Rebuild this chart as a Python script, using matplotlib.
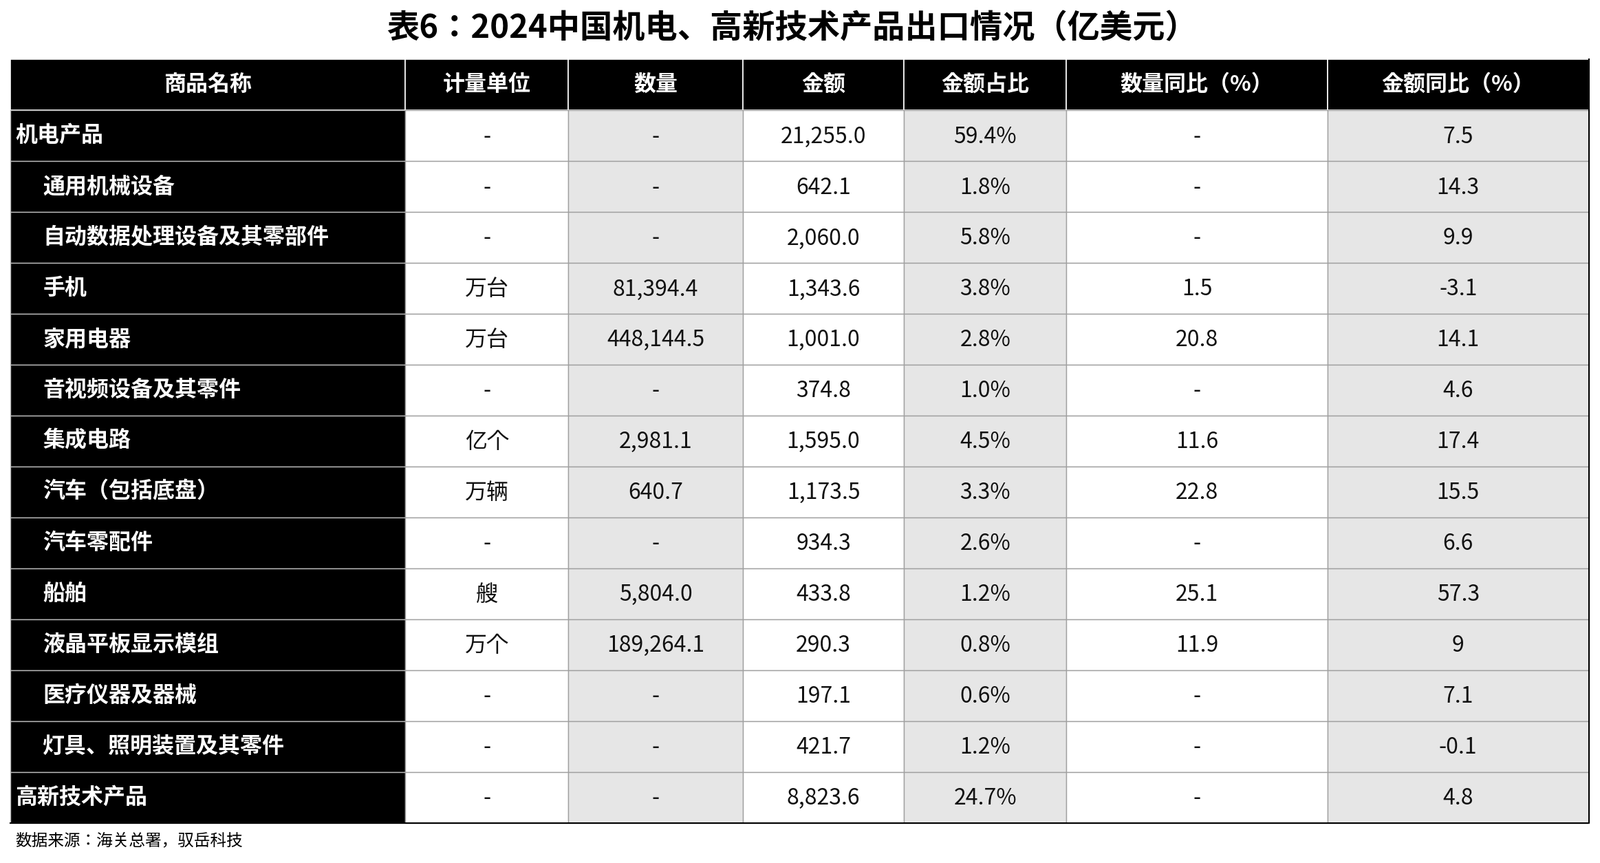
import matplotlib.pyplot as plt
from matplotlib import font_manager
from matplotlib.patches import Rectangle

# pick whatever CJK family name is registered
cjk = [f.name for f in font_manager.fontManager.ttflist if "CJK" in f.name]
plt.rcParams["font.family"] = ["Noto Sans CJK SC", "Noto Sans CJK JP"] + sorted(set(cjk)) + ["DejaVu Sans"]

title = "表6：2024中国机电、高新技术产品出口情况（亿美元）"
source = "数据来源：海关总署，驭岳科技"
headers = ["商品名称", "计量单位", "数量", "金额", "金额占比", "数量同比（%）", "金额同比（%）"]
names = ["机电产品", "通用机械设备", "自动数据处理设备及其零部件", "手机", "家用电器",
         "音视频设备及其零件", "集成电路", "汽车（包括底盘）", "汽车零配件", "船舶",
         "液晶平板显示模组", "医疗仪器及器械", "灯具、照明装置及其零件", "高新技术产品"]
indent = [False] + [True] * 12 + [False]
units = ["-", "-", "-", "万台", "万台", "-", "亿个", "万辆", "-", "艘", "万个", "-", "-", "-"]
quantity = ["-", "-", "-", "81,394.4", "448,144.5", "-", "2,981.1", "640.7", "-", "5,804.0",
            "189,264.1", "-", "-", "-"]
amount = ["21,255.0", "642.1", "2,060.0", "1,343.6", "1,001.0", "374.8", "1,595.0", "1,173.5",
          "934.3", "433.8", "290.3", "197.1", "421.7", "8,823.6"]
share = ["59.4%", "1.8%", "5.8%", "3.8%", "2.8%", "1.0%", "4.5%", "3.3%", "2.6%", "1.2%",
         "0.8%", "0.6%", "1.2%", "24.7%"]
qty_yoy = ["-", "-", "-", "1.5", "20.8", "-", "11.6", "22.8", "-", "25.1", "11.9", "-", "-", "-"]
amt_yoy = ["7.5", "14.3", "9.9", "-3.1", "14.1", "4.6", "17.4", "15.5", "6.6", "57.3", "9",
           "7.1", "-0.1", "4.8"]

cols = [10, 397, 557, 728, 886, 1045, 1301, 1557]
top, head_h, row_h = 58, 50, 49.9
gray = "#e6e6e6"

fig = plt.figure(figsize=(23.26, 12.54), dpi=100)
ax = fig.add_axes([0, 0, 1, 1])
ax.set_xlim(0, 1568)
ax.set_ylim(846, 0)
ax.axis("off")

fs = 23
ax.text(776, 28, title, ha="center", va="center", fontsize=34, fontweight="bold")

# header
for i, h in enumerate(headers):
    x0, x1 = cols[i], cols[i + 1]
    ax.add_patch(Rectangle((x0, top), x1 - x0, head_h, fc="black", ec="white", lw=1.2))
    ax.text((x0 + x1) / 2, top + head_h / 2, h, ha="center", va="center",
            color="white", fontsize=fs, fontweight="bold")

data_cols = [units, quantity, amount, share, qty_yoy, amt_yoy]
for r in range(len(names)):
    y0 = top + head_h + r * row_h
    yc = y0 + row_h / 2
    ax.add_patch(Rectangle((cols[0], y0), cols[1] - cols[0], row_h, fc="black", ec="#bbbbbb", lw=1))
    ax.text(cols[0] + (32 if indent[r] else 5), yc, names[r], ha="left", va="center",
            color="white", fontsize=fs, fontweight="bold")
    for c, vals in enumerate(data_cols):
        x0, x1 = cols[c + 1], cols[c + 2]
        ax.add_patch(Rectangle((x0, y0), x1 - x0, row_h, fc=gray if c % 2 == 1 else "white",
                               ec="#a0a0a0", lw=1))
        ax.text((x0 + x1) / 2, yc + 1, vals[r], ha="center", va="center", fontsize=fs, color="#111111")

bottom = top + head_h + len(names) * row_h
ax.plot([cols[0], cols[-1], cols[-1]], [bottom, bottom, top], color="black", lw=1.5)
ax.text(15, 824, source, ha="left", va="center", fontsize=17)

fig.savefig("out.png", dpi=100)
